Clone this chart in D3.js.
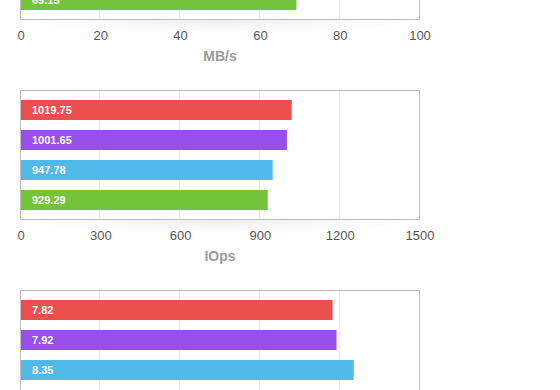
<!DOCTYPE html>
<html>
<head>
<meta charset="utf-8">
<script src="https://cdn.jsdelivr.net/npm/d3@7"></script>
<style>
  body { margin: 0; background: #fff; }
  text { font-family: "Helvetica Neue", Helvetica, Arial, "Liberation Sans", sans-serif; }
</style>
</head>
<body>
<svg id="charts" width="560" height="390"></svg>
<script>
// bar colours, top to bottom inside every chart
var barColors = ['#ed4f4f', '#984eeb', '#4fb9ea', '#73c43a']

// values (null = scrolled out of view)
var mbpsValues = [null, null, null, 69.15]
var mbpsTicks = [0, 20, 40, 60, 80, 100]

var iopsValues = [1019.75, 1001.65, 947.78, 929.29]
var iopsTicks = [0, 300, 600, 900, 1200, 1500]

var latencyValues = [7.82, 7.92, 8.35, null]
var latencyTicks = [0, 2, 4, 6, 8, 10]

var charts = [
  { values: mbpsValues, ticks: mbpsTicks, unit: 'MB/s', top: -110 },
  { values: iopsValues, ticks: iopsTicks, unit: 'IOps', top: 90 },
  { values: latencyValues, ticks: latencyTicks, unit: '', top: 290 }
]

var svg = d3.select('#charts')
var svgHeight = +svg.attr('height')
var left = 20.5, right = 419.5, frameH = 129.5

var defs = svg.append('defs')
var grad = defs.append('radialGradient').attr('id', 'shadow')
grad.append('stop').attr('offset', '0%').attr('stop-color', '#000').attr('stop-opacity', 0.07)
grad.append('stop').attr('offset', '100%').attr('stop-color', '#000').attr('stop-opacity', 0)

charts.forEach(function (c) {
  var x = d3.scaleLinear()
    .domain([c.ticks[0], c.ticks[c.ticks.length - 1]])
    .range([left, right])

  var y = d3.scaleBand()
    .domain(d3.range(c.values.length))
    .range([c.top + 5, c.top + 125])
    .paddingInner(1 / 3)
    .paddingOuter(1 / 6)

  var g = svg.append('g')

  // soft shadow under the frame
  g.append('ellipse')
    .attr('cx', (left + right) / 2)
    .attr('cy', c.top + frameH)
    .attr('rx', 200)
    .attr('ry', 14)
    .style('fill', 'url(#shadow)')

  g.append('rect')
    .attr('x', left)
    .attr('y', c.top + 0.5)
    .attr('width', right - left)
    .attr('height', frameH - 0.5)
    .style('fill', '#fff')

  g.selectAll('.grid')
    .data(c.ticks.slice(1, -1))
    .enter()
    .append('line')
    .attr('x1', function (d) { return Math.round(x(d)) - 0.5 })
    .attr('x2', function (d) { return Math.round(x(d)) - 0.5 })
    .attr('y1', c.top)
    .attr('y2', Math.min(c.top + frameH, svgHeight))
    .style('stroke', '#ebebeb')

  //only bars that are on screen
  var bars = g.selectAll('.bar')
    .data(c.values.map(function (v, i) { return { v: v, i: i } }).filter(function (d) { return d.v != null }))
    .enter()
    .append('g')

  bars.append('rect')
    .attr('x', left)
    .attr('y', function (d) { return y(d.i) })
    .attr('width', function (d) { return x(d.v) - left })
    .attr('height', y.bandwidth())
    .style('fill', function (d) { return barColors[d.i] })

  bars.append('text')
    .attr('x', 32)
    .attr('y', function (d) { return y(d.i) + y.bandwidth() / 2 })
    .attr('dy', '0.36em')
    .style('fill', '#fff')
    .style('font-size', '11px')
    .style('font-weight', 'bold')
    .text(function (d) { return d.v.toFixed(2) })

  g.append('rect')
    .attr('x', left)
    .attr('y', c.top + 0.5)
    .attr('width', right - left)
    .attr('height', frameH - 0.5)
    .style('fill', 'none')
    .style('stroke', '#bdbdbd')

  // axis labels only when they fall inside the window
  if (c.top + frameH + 20 < svgHeight) {
    var axis = d3.axisBottom(x).tickValues(c.ticks).tickFormat(d3.format('d')).tickSize(0).tickPadding(0)
    var ax = g.append('g')
      .attr('transform', 'translate(0,' + (c.top + frameH) + ')')
      .call(axis)
    ax.select('.domain').remove()
    ax.selectAll('text')
      .attr('y', 20)
      .attr('dy', 0)
      .style('font-size', '13px')
      .style('fill', '#555')

    g.append('text')
      .attr('x', (left + right) / 2)
      .attr('y', c.top + frameH + 41)
      .attr('text-anchor', 'middle')
      .style('font-size', '14px')
      .style('font-weight', 'bold')
      .style('fill', '#9a9a9a')
      .text(c.unit)
  }
})
</script>
</body>
</html>
